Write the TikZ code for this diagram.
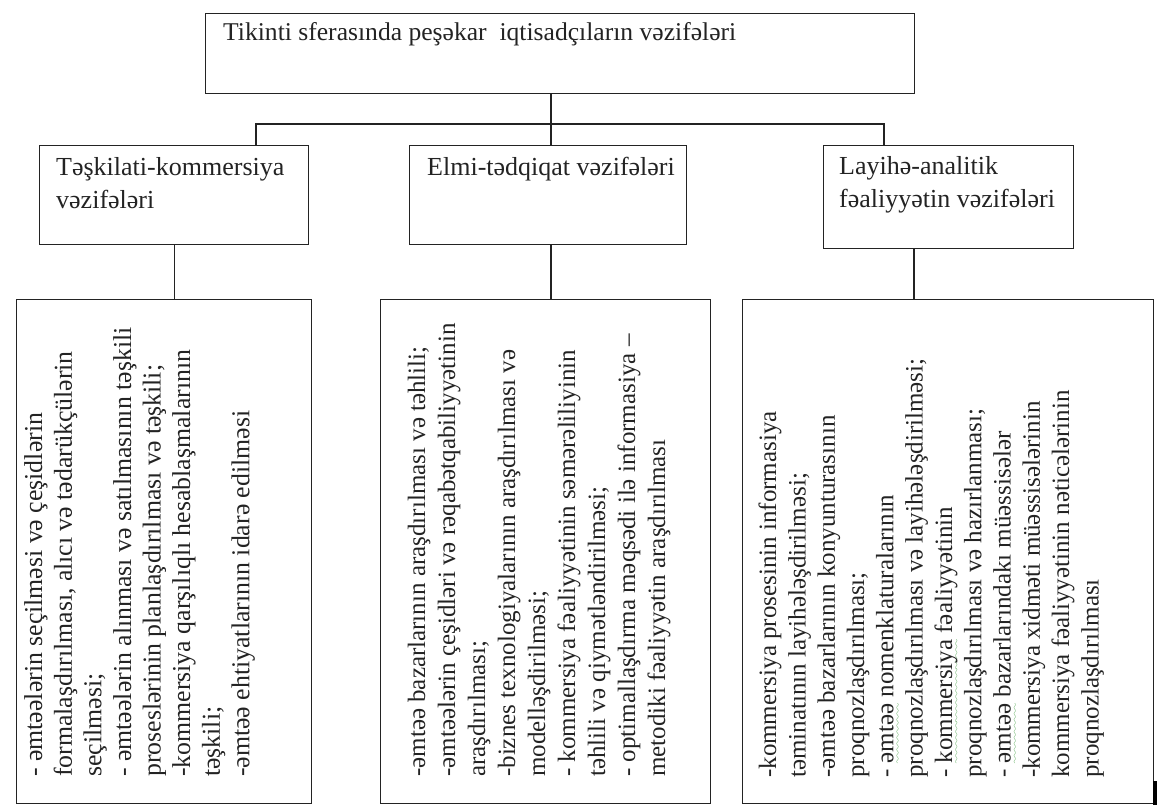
\documentclass[tikz,border=0pt]{standalone}
\usepackage{fontspec}
\setmainfont{Liberation Serif}
\usetikzlibrary{calc}
\definecolor{sqgreen}{RGB}{70,160,70}
\definecolor{ink}{RGB}{35,35,35}
\font\wavefont=lasy6 at 7pt
\newsavebox\gsqbox
\newcommand\gsq[1]{\sbox\gsqbox{#1}\rlap{\textcolor{sqgreen}{\lower6pt\hbox to\wd\gsqbox{\xleaders\hbox{\wavefont\char58}\hfill}}}\usebox\gsqbox}
\begin{document}
\begin{tikzpicture}[x=1pt,y=-1pt,
  boxn/.style={draw=ink, line width=1.3pt, inner sep=0pt, anchor=north west},
  conn/.style={draw=ink, line width=1.3pt},
  lbl/.style={inner sep=0pt, anchor=base west, text=ink, font=\fontsize{26}{33}\selectfont, align=left},
  vtxt/.style={inner sep=0pt, anchor=north west, rotate=90, text=ink, align=left}]
\useasboundingbox (0,0) rectangle (1157,805);
% top box
\node[boxn, minimum width=709pt, minimum height=80pt] (top) at (205,13) {};
\node[lbl, font=\fontsize{25.6}{33}\selectfont] (toptxt) at (223,41) {Tikinti sferasında peşəkar~ iqtisadçıların vəzifələri};
% middle row (two-line labels are anchored at the baseline of their last line)
\node[boxn, minimum width=269pt, minimum height=99pt] (l) at (39,145) {};
\node[lbl] (ltxt) at (56,209) {Təşkilati-kommersiya\\vəzifələri};
\node[boxn, minimum width=277pt, minimum height=99pt] (m) at (409,145) {};
\node[lbl] (mtxt) at (427,176) {Elmi-tədqiqat vəzifələri};
\node[boxn, minimum width=250pt, minimum height=103pt] (r) at (823,145) {};
\node[lbl] (rtxt) at (839,208) {Layihə-analitik\\fəaliyyətin vəzifələri};
% bottom row
\node[boxn, minimum width=295pt, minimum height=504pt] (bl) at (16,299) {};
\node[boxn, minimum width=330pt, minimum height=504pt] (bm) at (380,299) {};
\node[boxn, minimum width=411pt, minimum height=504pt] (br) at (742,299) {};
% junctions
\coordinate (jl) at (256,124);
\coordinate (jm) at (551,124);
\coordinate (jr) at (884,124);
\coordinate (dr) at (914,270);
% connectors
\draw[conn] (top.south -| jm) -- (jm);
\draw[conn] (l.north -| jl) |- (jr) -- (r.north -| jr);
\draw[conn] (jm) -- (m.north -| jm);
\draw[conn] (l.south) -- (l.south |- bl.north);
\draw[conn] (m.south -| jm) -- (bm.north -| jm);
\draw[conn] (r.south -| dr) -- (br.north -| dr);
% rotated texts
\node[vtxt, font=\fontsize{25.8}{29.6}\selectfont] (bltxt) at (22,777) {\rule{0pt}{20pt}- əmtəələrin seçilməsi və çeşidlərin\\
formalaşdırılması, alıcı və tədarükçülərin\\
seçilməsi;\\
- əmtəələrin alınması və satılmasının təşkili\\
proseslərinin planlaşdırılması və təşkili;\\
-kommersiya qarşılıqlı hesablaşmalarının\\
təşkili;\\
-əmtəə ehtiyatlarının idarə edilməsi};
\node[vtxt, font=\fontsize{25}{30}\selectfont] (bmtxt) at (406,777) {\rule{0pt}{19pt}-əmtəə bazarlarının araşdırılması və təhlili;\\
-əmtəələrin çeşidləri və rəqabətqabiliyyətinin\\
araşdırılması;\\
-biznes texnologiyalarının araşdırılması və\\
modelləşdirilməsi;\\
- kommersiya fəaliyyətinin səmərəliliyinin\\
təhlili və qiymətləndirilməsi;\\
- optimallaşdırma məqsədi ilə informasiya –\\
metodiki fəaliyyətin araşdırılması};
\node[vtxt, font=\fontsize{25}{29.3}\selectfont] (brtxt) at (757,778) {\rule{0pt}{19pt}-kommersiya prosesinin informasiya\\
təminatının layihələşdirilməsi;\\
-əmtəə bazarlarının konyunturasının\\
proqnozlaşdırılması;\\
- \gsq{əmtəə} nomenklaturalarının\\
proqnozlaşdırılması və layihələşdirilməsi;\\
- \gsq{kommersiya} fəaliyyətinin\\
proqnozlaşdırılması və hazırlanması;\\
- \gsq{əmtəə} bazarlarındakı müəssisələr\\
-kommersiya xidməti müəssisələrinin\\
kommersiya fəaliyyətinin nəticələrinin\\
proqnozlaşdırılması};
% dark edge mark at lower right
\fill[black] (1153,781) rectangle (1157,805);
\end{tikzpicture}
\end{document}
